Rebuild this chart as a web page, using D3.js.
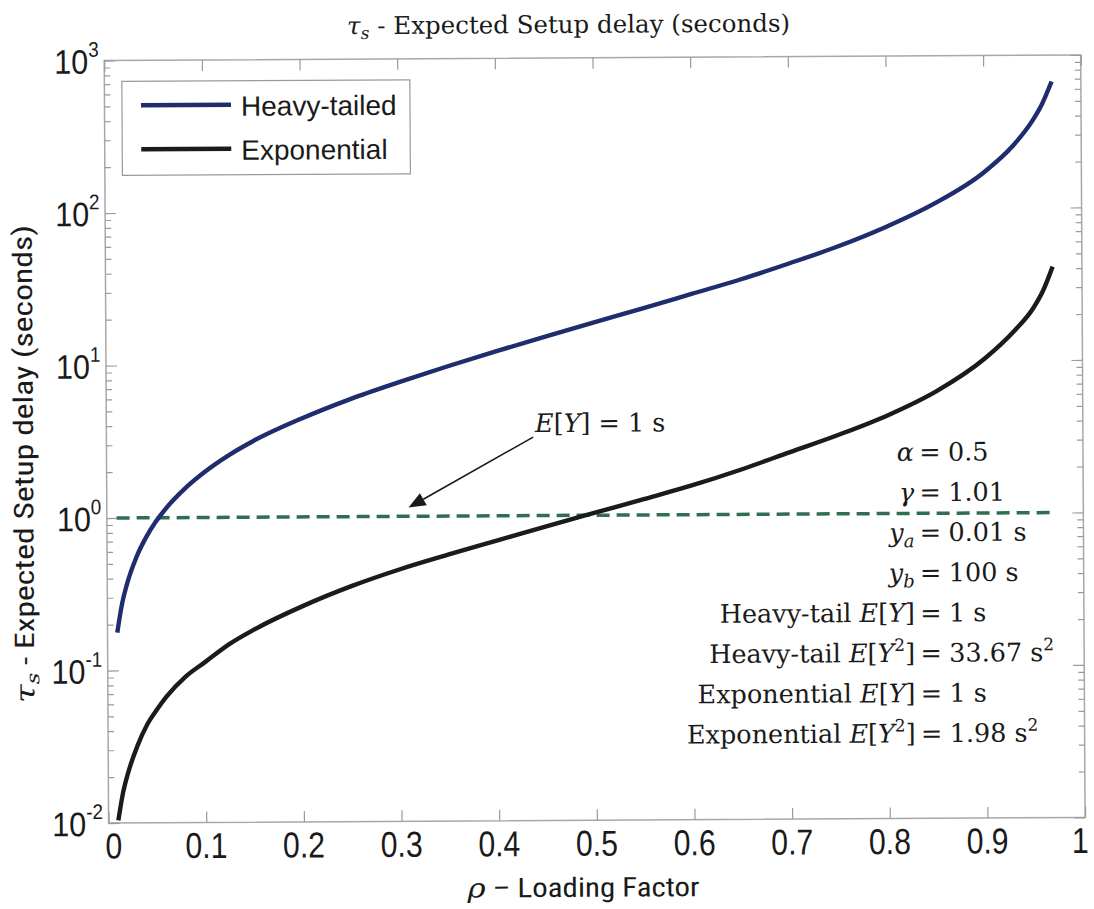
<!DOCTYPE html>
<html><head><meta charset="utf-8">
<script src="https://cdn.jsdelivr.net/npm/d3@7"></script>
<style>body{margin:0;background:#fff} svg{display:block}</style>
</head><body><svg id="c" width="1094" height="909"></svg>
<script>
// ---- data ----
const rho = [0.01,0.015,0.02,0.03,0.04,0.05,0.06,0.08,0.1,0.125,0.15,0.2,0.25,0.3,0.35,0.4,0.45,0.5,0.55,0.6,0.65,0.7,0.75,0.8,0.85,0.9,0.93,0.95,0.96,0.97];
const heavyTailed = [0.177,0.272,0.364,0.552,0.744,0.94,1.14,1.55,1.98,2.55,3.15,4.42,5.9,7.58,9.6,12.0,14.9,18.4,22.6,28.0,34.7,44.0,56.6,76,108,171,255,371,477,671];
const exponential = [0.0104,0.0158,0.021,0.032,0.044,0.055,0.067,0.091,0.113,0.148,0.183,0.26,0.35,0.45,0.56,0.69,0.85,1.04,1.27,1.56,1.97,2.55,3.3,4.4,6.3,10.3,15.5,22,28.5,41];
const meanRho = [0.01,0.97];
const meanValue = [1,1];
const xTicks = [0,0.1,0.2,0.3,0.4,0.5,0.6,0.7,0.8,0.9,1];
const xTickLabels = ["0","0.1","0.2","0.3","0.4","0.5","0.6","0.7","0.8","0.9","1"];
const yMajor = [1e-2,1e-1,1e0,1e1,1e2,1e3];
const yExponents = ["-2","-1","0","1","2","3"];
const seriesNames = ["Heavy-tailed","Exponential"];
const seriesColors = ["#1f2c6e","#1b1b1b"];

const W = 1094, H = 909;
const m = {left:106.5, right:1083, top:58, bottom:820.5};
const svg = d3.select("#c");
const g = svg.append("g").attr("transform", `rotate(-0.33 ${W/2} ${H/2})`);

const x = d3.scaleLinear().domain([0,1]).range([m.left, m.right]);
const y = d3.scaleLog().domain([1e-2,1e3]).range([m.bottom, m.top]);

const sans = "'Liberation Sans', Arial, sans-serif";
const serif = "'DejaVu Serif', serif";
const narrow = "'Liberation Sans Narrow','Roboto Condensed',Roboto,sans-serif";

// frame
g.append("rect").attr("x",m.left).attr("y",m.top).attr("width",m.right-m.left).attr("height",m.bottom-m.top)
 .attr("fill","none").attr("stroke","#a8a8a8").attr("stroke-width",1.5);

// axes ticks
const yMinor = y.ticks().filter(v => !yMajor.some(M => Math.abs(M - v) < 1e-12));
function styleAxis(sel){ sel.select(".domain").remove(); sel.selectAll("line").attr("stroke","#9a9a9a").attr("stroke-width",1.2); sel.selectAll("text").remove(); }
g.append("g").attr("transform",`translate(0,${m.bottom})`).call(d3.axisBottom(x).tickValues(xTicks).tickSize(-11)).call(styleAxis);
g.append("g").attr("transform",`translate(0,${m.top})`).call(d3.axisTop(x).tickValues(xTicks).tickSize(-11)).call(styleAxis);
g.append("g").attr("transform",`translate(${m.left},0)`).call(d3.axisLeft(y).tickValues(yMajor).tickSize(-11)).call(styleAxis);
g.append("g").attr("transform",`translate(${m.left},0)`).call(d3.axisLeft(y).tickValues(yMinor).tickSize(-6)).call(styleAxis);
g.append("g").attr("transform",`translate(${m.right},0)`).call(d3.axisRight(y).tickValues(yMajor).tickSize(-11)).call(styleAxis);
g.append("g").attr("transform",`translate(${m.right},0)`).call(d3.axisRight(y).tickValues(yMinor).tickSize(-6)).call(styleAxis);

// x tick labels
g.selectAll(".xl").data(xTicks).enter().append("text")
 .attr("transform", (d)=>`translate(${x(d) + (d===0?5:(d===1?-5:0))},856) scale(0.84,1)`)
 .attr("text-anchor","middle").attr("font-family",sans).attr("font-size",36).attr("fill","#1a1a1a")
 .text((d,i)=>xTickLabels[i]);

// y tick labels
yMajor.forEach((v,i)=>{
  const t = g.append("text").attr("transform",`translate(101,${y(v)+13}) scale(0.9,1)`)
    .attr("text-anchor","end").attr("font-family",sans).attr("font-size",34).attr("fill","#1a1a1a");
  t.append("tspan").text("10");
  t.append("tspan").attr("dy",-17).attr("font-size",21).text(yExponents[i]);
});

// dashed E[Y]=1 line
const line = d3.line().x(d=>x(d[0])).y(d=>y(d[1])).curve(d3.curveMonotoneX);
g.append("path").attr("d", line(meanRho.map((r,i)=>[r,meanValue[i]]))).attr("fill","none").attr("stroke","#2f6f50")
 .attr("stroke-width",3.5).attr("stroke-dasharray","13,7");

// curves
g.append("path").attr("d", line(rho.map((r,i)=>[r,heavyTailed[i]]))).attr("fill","none")
 .attr("stroke",seriesColors[0]).attr("stroke-width",4.4).attr("stroke-linejoin","round");
g.append("path").attr("d", line(rho.map((r,i)=>[r,exponential[i]]))).attr("fill","none")
 .attr("stroke",seriesColors[1]).attr("stroke-width",4.4).attr("stroke-linejoin","round");

// legend
const lg = g.append("g");
lg.append("rect").attr("x",124).attr("y",79).attr("width",288).attr("height",94).attr("fill","#fff").attr("stroke","#9a9a9a").attr("stroke-width",1.2);
seriesNames.forEach((n,i)=>{
  const yy = 103 + i*44;
  lg.append("line").attr("x1",143).attr("x2",233).attr("y1",yy).attr("y2",yy).attr("stroke",seriesColors[i]).attr("stroke-width",4.5);
  lg.append("text").attr("x",243).attr("y",yy+11).attr("font-family",sans).attr("font-size",28).attr("fill","#1a1a1a").text(n);
});

// title
const title = g.append("text").attr("x",571).attr("y",33).attr("text-anchor","middle").attr("font-family",serif).attr("font-size",24.5).attr("fill","#1a1a1a");
title.append("tspan").attr("font-style","italic").text("τ");
title.append("tspan").attr("font-style","italic").attr("font-size",17).attr("dy",5).text("s");
title.append("tspan").attr("dy",-5).text(" - Expected Setup delay (seconds)");

// y axis label
const yl = g.append("text").attr("transform","translate(33,461) rotate(-90)").attr("text-anchor","middle")
 .attr("font-family",narrow).attr("font-size",27).attr("fill","#1a1a1a")
 .attr("textLength",478).attr("lengthAdjust","spacingAndGlyphs");
yl.append("tspan").attr("font-family",serif).attr("font-style","italic").text("τ");
yl.append("tspan").attr("font-family",serif).attr("font-style","italic").attr("font-size",18).attr("dy",5).text("s");
yl.append("tspan").attr("dy",-5).text(" - Expected Setup delay (seconds)");

// x axis label
const xlab = g.append("text").attr("x",581).attr("y",897).attr("text-anchor","middle")
 .attr("font-family",narrow).attr("font-size",27).attr("fill","#1a1a1a")
 .attr("textLength",232).attr("lengthAdjust","spacingAndGlyphs");
xlab.append("tspan").attr("font-family",serif).attr("font-style","italic").text("ρ");
xlab.append("tspan").text(" – Loading Factor");

// parameter block (aligned on '=')
const params = [
  {l:[["α","i"]], r:[["0.5",""]]},
  {l:[["γ","i"]], r:[["1.01",""]]},
  {l:[["y","i"],["a","isub"]], r:[["0.01 s",""]]},
  {l:[["y","i"],["b","isub"]], r:[["100 s",""]]},
  {l:[["Heavy-tail ",""],["E","i"],["[",""],["Y","i"],["]",""]], r:[["1 s",""]]},
  {l:[["Heavy-tail ",""],["E","i"],["[",""],["Y","i"],["2","sup"],["]",""]], r:[["33.67 s",""],["2","sup"]]},
  {l:[["Exponential ",""],["E","i"],["[",""],["Y","i"],["]",""]], r:[["1 s",""]]},
  {l:[["Exponential ",""],["E","i"],["[",""],["Y","i"],["2","sup"],["]",""]], r:[["1.98 s",""],["2","sup"]]}
];
function addRuns(t, runs){
  let shift = 0;
  runs.forEach(([s,k])=>{
    const sp = t.append("tspan").text(s);
    let target = 0;
    if (k==="i") sp.attr("font-style","italic");
    if (k==="isub"){ sp.attr("font-style","italic").attr("font-size",18); target = 6; }
    if (k==="sup"){ sp.attr("font-size",17); target = -11; }
    sp.attr("dy", target - shift); shift = target;
  });
}
const fs = 25.5;
params.forEach((p,i)=>{
  const yy = 463 + i*40.2;
  const tl = g.append("text").attr("x",914).attr("y",yy).attr("text-anchor","end").attr("font-family",serif).attr("font-size",fs).attr("fill","#1a1a1a");
  addRuns(tl, p.l);
  g.append("text").attr("x",930).attr("y",yy).attr("text-anchor","middle").attr("font-family",serif).attr("font-size",fs).attr("fill","#1a1a1a").text("=");
  const tr = g.append("text").attr("x",948).attr("y",yy).attr("text-anchor","start").attr("font-family",serif).attr("font-size",fs).attr("fill","#1a1a1a");
  addRuns(tr, p.r);
});

// annotation arrow for E[Y] = 1 s
const arrowTail = [0.437, 3.27], arrowTip = [0.309, 1.14];
const ax1 = x(arrowTail[0]), ay1 = y(arrowTail[1]), ax2 = x(arrowTip[0]), ay2 = y(arrowTip[1]);
const ang = Math.atan2(ay2-ay1, ax2-ax1), L = 17, Wd = 7;
const bx = ax2 - L*Math.cos(ang), by = ay2 - L*Math.sin(ang);
g.append("line").attr("x1",ax1).attr("y1",ay1).attr("x2",bx).attr("y2",by).attr("stroke","#1a1a1a").attr("stroke-width",1.6);
g.append("path").attr("d",`M${ax2},${ay2}L${bx+Wd*Math.sin(ang)},${by-Wd*Math.cos(ang)}L${bx-Wd*Math.sin(ang)},${by+Wd*Math.cos(ang)}Z`).attr("fill","#1a1a1a");
const at = g.append("text").attr("x",x(0.437)+2).attr("y",y(3.27)-5).attr("font-family",serif).attr("font-size",fs).attr("fill","#1a1a1a");
addRuns(at, [["E","i"],["[",""],["Y","i"],["] = 1 s",""]]);
</script></body></html>
